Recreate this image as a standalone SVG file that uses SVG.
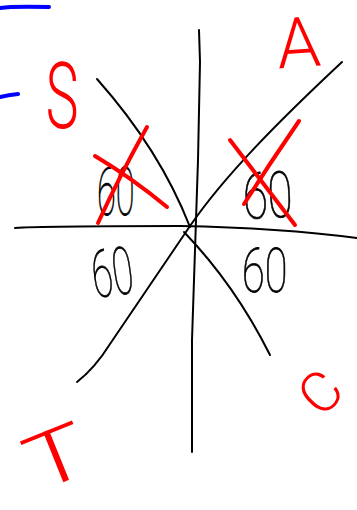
<svg xmlns="http://www.w3.org/2000/svg" width="357" height="510" viewBox="0 0 357 510">
<style>
.ink{fill:none;stroke:#000;stroke-width:2;stroke-linecap:round;stroke-linejoin:round}
.red{fill:none;stroke:#ff0000;stroke-width:4;stroke-linecap:round;stroke-linejoin:round}
.blue{fill:none;stroke:#0000ff;stroke-width:4;stroke-linecap:round}
.num{font-family:Roboto,"Liberation Sans",sans-serif;font-weight:100;fill:#000;stroke:#000;stroke-width:0.8}
.let{font-family:Roboto,"Liberation Sans",sans-serif;font-weight:300;fill:#ff0000;text-anchor:middle}
</style>
<rect width="357" height="510" fill="#fff"/>
<g id="marks-blue">
<path class="blue" d="M0,8 Q12,6 49,7"/>
<path class="blue" d="M0,97 Q8,95 18,94"/>
</g>
<g id="axes">
<path class="ink" d="M199,30 L200,62 L198,160 L192,340 L192,452"/>
<path class="ink" d="M15,228 Q40,226 180,226 Q280,228 357,238"/>
<path class="ink" d="M97,79 Q160,150 190,227"/>
<path class="ink" d="M184,232 Q235,285 270,355"/>
<path class="ink" d="M342,62 C280,120 225,175 190,226 S130,315 110,344 Q95,368 77,382"/>
</g>
<g id="labels-60">
<text class="num" font-size="66" transform="translate(97,215) scale(0.52,1)">60</text>
<text class="num" font-size="64" transform="translate(244,219) rotate(-3) scale(0.71,1)">60</text>
<text class="num" font-size="66" transform="translate(95,298) rotate(-8) scale(0.57,1)">60</text>
<text class="num" font-size="62" transform="translate(242,292) scale(0.67,1)">60</text>
</g>
<g id="crosses">
<path class="red" d="M95,156 Q132,178 167,207"/>
<path class="red" d="M147,127 Q120,175 98,223"/>
<path class="red" d="M230,140 Q262,182 295,225"/>
<path class="red" d="M299,121 Q270,163 244,204"/>
</g>
<g id="quadrant-letters">
<text class="let" font-size="92" transform="translate(62,128) scale(0.6,1)">S</text>
<text class="let" font-size="70" transform="translate(300,67) rotate(-4)">A</text>
<text class="let" font-size="56" transform="translate(320,392) rotate(-45)" y="20">C</text>
<text class="let" font-size="76" transform="translate(46,431) rotate(-22) scale(1.35,1)" y="54">T</text>
</g>
</svg>
